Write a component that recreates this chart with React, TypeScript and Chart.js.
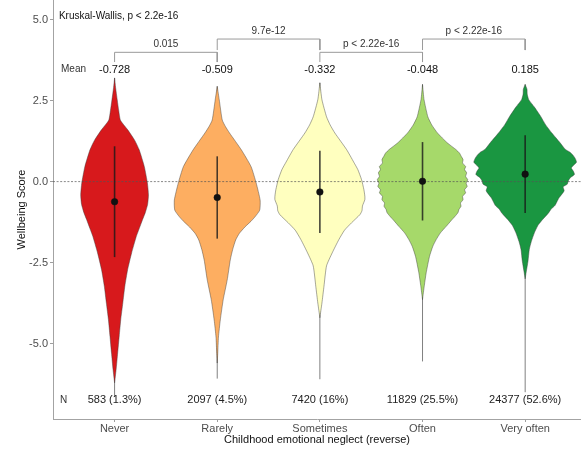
import React, { useEffect, useRef } from 'react';
import { Chart, registerables } from 'chart.js';

Chart.register(...registerables);

// ---------- data ----------
const categories = ['Never', 'Rarely', 'Sometimes', 'Often', 'Very often'];
const meanLabels = ['-0.728', '-0.509', '-0.332', '-0.048', '0.185'];
const nLabels = ['583 (1.3%)', '2097 (4.5%)', '7420 (16%)', '11829 (25.5%)', '24377 (52.6%)'];
const pointCenters = [-0.62, -0.49, -0.32, 0.01, 0.23];
const pointSpread = [1.71, 1.27, 1.27, 1.21, 1.2];
const rangeMin = [-6.65, -6.08, -6.1, -5.55, -6.5];
const rangeMax = [3.2, 2.94, 3.05, 3.0, 3.0];
const yTicks = [-5, -2.5, 0, 2.5, 5];

const bracketFrom = [1, 2, 3, 4];
const bracketTo = [2, 3, 4, 5];
const bracketLabels = ['0.015', '9.7e-12', 'p < 2.22e-16', 'p < 2.22e-16'];
const bracketLevel = [3.99, 4.4, 3.99, 4.4];
const bracketTipLevel = [3.69, 4.06, 3.69, 4.06];
const kruskalLabel = 'Kruskal-Wallis, p < 2.2e-16';

// violin profiles: [score, half width in category units], top to bottom
const neverProfile: [number, number][] = [
  [3.2, 0], [2.9, 0.01], [2.52, 0.026], [2.2, 0.04], [1.9, 0.056], [1.75, 0.09], [1.59, 0.13], [1.28, 0.195],
  [0.98, 0.24], [0.46, 0.29], [-0.05, 0.32], [-0.41, 0.33], [-0.7, 0.322], [-0.95, 0.3],
  [-1.17, 0.273], [-1.45, 0.24], [-1.69, 0.212], [-2.2, 0.166], [-2.72, 0.127], [-3.23, 0.1],
  [-3.75, 0.08], [-4.26, 0.06], [-4.77, 0.045], [-5.29, 0.03], [-5.8, 0.015], [-6.21, 0],
];
const rarelyProfile: [number, number][] = [
  [2.94, 0], [2.52, 0.02], [1.9, 0.049], [1.7, 0.08], [1.5, 0.12], [0.98, 0.235], [0.46, 0.33], [-0.05, 0.38],
  [-0.57, 0.418], [-0.88, 0.414], [-1.08, 0.37], [-1.22, 0.33], [-1.4, 0.27], [-1.6, 0.215],
  [-1.8, 0.18], [-2.1, 0.15], [-2.42, 0.127], [-3.04, 0.097], [-3.65, 0.058], [-4.27, 0.03],
  [-4.8, 0.012], [-5.3, 0.005], [-5.6, 0],
];
const sometimesProfile: [number, number][] = [
  [3.05, 0], [2.53, 0.02], [2.0, 0.065], [1.75, 0.1], [1.5, 0.146], [0.99, 0.26], [0.6, 0.33], [0.37, 0.37],
  [0.06, 0.406], [-0.25, 0.429], [-0.45, 0.438], [-0.56, 0.438], [-0.75, 0.415], [-0.9, 0.41],
  [-1.02, 0.39], [-1.27, 0.309], [-1.5, 0.24], [-1.79, 0.185], [-2.2, 0.12], [-2.6, 0.065],
  [-3.23, 0.04], [-3.75, 0.02], [-4.2, 0],
];
const oftenProfile: [number, number][] = [
  [3.0, 0], [2.53, 0.015], [2.0, 0.052], [1.75, 0.09], [1.5, 0.146], [1.2, 0.24], [0.99, 0.325], [0.88, 0.36],
  [0.78, 0.377], [0.68, 0.395], [0.57, 0.39], [0.47, 0.42], [0.37, 0.41], [0.27, 0.43],
  [0.16, 0.42], [0.06, 0.44], [-0.05, 0.425], [-0.15, 0.435], [-0.25, 0.41], [-0.35, 0.42],
  [-0.45, 0.39], [-0.56, 0.395], [-0.66, 0.37], [-0.76, 0.375], [-0.86, 0.355], [-0.96, 0.345],
  [-1.07, 0.317], [-1.2, 0.28], [-1.38, 0.231], [-1.58, 0.175], [-1.79, 0.133], [-2.0, 0.1],
  [-2.31, 0.068], [-2.81, 0.036], [-3.2, 0.018], [-3.64, 0],
];
const veryOftenProfile: [number, number][] = [
  [3.0, 0], [2.85, 0.018], [2.7, 0.02], [2.53, 0.035], [2.3, 0.09], [2.02, 0.15], [1.75, 0.2],
  [1.5, 0.26], [1.2, 0.34], [1.0, 0.39], [0.9, 0.44], [0.8, 0.47], [0.7, 0.49], [0.6, 0.5],
  [0.5, 0.47], [0.42, 0.45], [0.32, 0.47], [0.22, 0.48], [0.12, 0.44], [0.02, 0.42],
  [-0.08, 0.41], [-0.16, 0.37], [-0.28, 0.38], [-0.38, 0.36], [-0.5, 0.33], [-0.62, 0.31],
  [-0.74, 0.29], [-0.86, 0.25], [-0.96, 0.23], [-1.17, 0.17], [-1.35, 0.125], [-1.58, 0.09],
  [-1.85, 0.06], [-2.1, 0.04], [-2.45, 0.028], [-2.8, 0.01], [-3.0, 0],
];
const profiles = [neverProfile, rarelyProfile, sometimesProfile, oftenProfile, veryOftenProfile];

// ---------- styles ----------
const palette = ['#d7191c', '#fdae61', '#ffffbf', '#a6d96a', '#1a9641'];
const FONT = "'Liberation Sans', Arial, Helvetica, sans-serif";
const X_MIN = 0.4;
const X_MAX = 5.544;
const Y_MIN = -7.327;
const Y_MAX = 5.605;

function violinPoints(profile: [number, number][], c: number) {
  const right = profile.map(([v, w]) => ({ x: c + w, y: v }));
  const left = profile.slice().reverse().map(([v, w]) => ({ x: c - w, y: v }));
  return [...right, ...left];
}

const textPlugin = {
  id: 'violinText',
  afterDatasetsDraw(chart: any) {
    const { ctx, scales } = chart;
    const xs = scales.x;
    const ys = scales.y;
    const put = (t: string, xv: number, yv: number, align: CanvasTextAlign, size: number, color: string) => {
      ctx.font = `${size}px ${FONT}`;
      ctx.fillStyle = color;
      ctx.textAlign = align;
      ctx.textBaseline = 'middle';
      ctx.fillText(t, xs.getPixelForValue(xv), ys.getPixelForValue(yv));
    };
    ctx.save();
    put(kruskalLabel, 0.458, 5.11, 'left', 10, '#111');
    put('Mean', 0.478, 3.47, 'left', 10, '#333');
    put('N', 0.468, -6.74, 'left', 10, '#333');
    categories.forEach((_, i) => {
      put(meanLabels[i], i + 1, 3.46, 'center', 11, '#111');
      put(nLabels[i], i + 1, -6.74, 'center', 11, '#222');
    });
    bracketLabels.forEach((t, i) => {
      put(t, (bracketFrom[i] + bracketTo[i]) / 2, bracketLevel[i] + 0.24, 'center', 10, '#333');
    });
    ctx.restore();
  },
};

export default function App() {
  const ref = useRef<HTMLCanvasElement>(null);

  useEffect(() => {
    const datasets: any[] = [];

    // range (thin tails)
    categories.forEach((_, i) => {
      datasets.push({
        data: [{ x: i + 1, y: rangeMin[i] }, { x: i + 1, y: rangeMax[i] }],
        showLine: true,
        borderColor: '#808080',
        borderWidth: 1,
        pointRadius: 0,
        order: 11,
      });
    });

    // violins
    profiles.forEach((p, i) => {
      datasets.push({
        data: violinPoints(p, i + 1),
        showLine: true,
        fill: 'shape',
        backgroundColor: palette[i],
        borderColor: 'rgba(60,60,60,0.75)',
        borderWidth: 0.6,
        tension: 0.18,
        pointRadius: 0,
        order: 10,
      });
    });

    // zero line
    datasets.push({
      data: [{ x: X_MIN, y: 0 }, { x: X_MAX, y: 0 }],
      showLine: true,
      borderColor: '#555',
      borderWidth: 0.7,
      borderDash: [2, 1.6],
      pointRadius: 0,
      order: 5,
    });

    // mean +- sd lines
    categories.forEach((_, i) => {
      datasets.push({
        data: [
          { x: i + 1, y: pointCenters[i] - pointSpread[i] },
          { x: i + 1, y: pointCenters[i] + pointSpread[i] },
        ],
        showLine: true,
        borderColor: 'rgba(25,25,25,0.8)',
        borderWidth: 1.6,
        pointRadius: 0,
        order: 3,
      });
    });

    // points
    datasets.push({
      data: pointCenters.map((v, i) => ({ x: i + 1, y: v })),
      pointRadius: 3.3,
      pointBackgroundColor: '#111',
      pointBorderColor: '#111',
      pointBorderWidth: 0.5,
      order: 2,
    });

    // brackets
    bracketLabels.forEach((_, i) => {
      datasets.push({
        data: [
          { x: bracketFrom[i], y: bracketTipLevel[i] },
          { x: bracketFrom[i], y: bracketLevel[i] },
          { x: bracketTo[i], y: bracketLevel[i] },
          { x: bracketTo[i], y: bracketTipLevel[i] },
        ],
        showLine: true,
        borderColor: '#9a9a9a',
        borderWidth: 1,
        pointRadius: 0,
        order: 1,
      });
    });

    const chart = new Chart(ref.current as HTMLCanvasElement, {
      type: 'scatter',
      data: { datasets },
      options: {
        animation: false,
        responsive: false,
        devicePixelRatio: 1,
        layout: { padding: 0, autoPadding: false },
        plugins: { legend: { display: false }, tooltip: { enabled: false } },
        events: [],
        scales: {
          x: {
            type: 'linear',
            min: X_MIN,
            max: X_MAX,
            afterBuildTicks: (scale: any) => {
              scale.ticks = categories.map((_, i) => ({ value: i + 1 }));
            },
            afterFit: (scale: any) => {
              scale.height = 30;
              scale.paddingLeft = 0;
              scale.paddingRight = 0;
            },
            ticks: {
              callback: (v: any) => categories[Math.round(Number(v)) - 1] ?? '',
              color: '#4d4d4d',
              font: { family: FONT, size: 11 },
              padding: 0,
              maxRotation: 0,
              autoSkip: false,
            },
            grid: { display: true, drawOnChartArea: false, drawTicks: true, tickLength: 3, color: '#9e9e9e' },
            border: { display: true, color: '#a3a3a3', width: 1 },
            title: {
              display: true,
              text: 'Childhood emotional neglect (reverse)',
              color: '#111',
              font: { family: FONT, size: 11 },
              padding: { top: 0, bottom: 2.4 },
            },
          },
          y: {
            type: 'linear',
            min: Y_MIN,
            max: Y_MAX,
            afterBuildTicks: (scale: any) => {
              scale.ticks = yTicks.map((v) => ({ value: v }));
            },
            afterFit: (scale: any) => {
              scale.width = 53;
              scale.paddingTop = 0;
              scale.paddingBottom = 0;
            },
            ticks: {
              callback: (v: any) => Number(v).toFixed(1),
              color: '#4d4d4d',
              font: { family: FONT, size: 11 },
              padding: 2,
            },
            grid: { display: true, drawOnChartArea: false, drawTicks: true, tickLength: 3, color: '#9e9e9e' },
            border: { display: true, color: '#a3a3a3', width: 1 },
            title: {
              display: true,
              text: 'Wellbeing Score',
              color: '#111',
              font: { family: FONT, size: 11 },
              padding: { top: 15.4, bottom: 0 },
            },
          },
        },
      },
      plugins: [textPlugin],
    } as any);

    return () => chart.destroy();
  }, []);

  return (
    <div style={{ position: 'fixed', left: 0, top: 0, width: 581, height: 449, background: '#fff' }}>
      <canvas ref={ref} width={581} height={449} style={{ display: 'block', width: 581, height: 449 }} />
    </div>
  );
}
